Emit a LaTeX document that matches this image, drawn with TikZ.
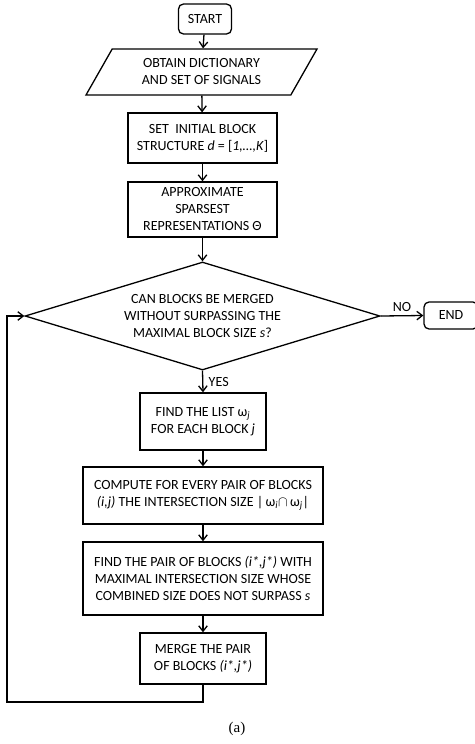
\documentclass[tikz,border=0pt]{standalone}
\usepackage{fontspec}
\setmainfont{Carlito}
\newfontfamily\capfont{Liberation Serif}
\usetikzlibrary{shapes.geometric, arrows.meta, positioning}

\begin{document}
\begin{tikzpicture}[x=1pt, y=-1pt, line width=1.3pt,
    >={Straight Barb[length=5.5pt, width=8.5pt]},
    font=\fontsize{14}{17}\selectfont]
    % Styles for the flowchart shapes
    \tikzstyle{block}=[rectangle, draw, align=center, inner sep=0pt]
    \tikzstyle{terminal}=[rectangle, draw, rounded corners=5pt, align=center, inner sep=0pt]
    \tikzstyle{io}=[trapezium, draw, trapezium left angle=45, trapezium right angle=135,
        trapezium stretches body, align=center, inner sep=0pt]
    \tikzstyle{decision}=[diamond, draw, aspect=3.3, align=center, inner sep=0pt]

    \useasboundingbox (0,0) rectangle (474,744);

    % Draw the nodes of the flowchart
    \node[terminal, minimum width=53pt, minimum height=30pt] (start) at (205,19) {START};
    \node[io, minimum width=231pt, minimum height=46pt] (obtain) at (201.5,72)
        {OBTAIN DICTIONARY\\AND SET OF SIGNALS};
    \node[block, minimum width=149pt, minimum height=50pt] (init) at (202.5,138)
        {SET\ \ INITIAL BLOCK\\STRUCTURE \textit{d} = [\textit{1,\dots,K}]};
    \node[block, minimum width=149pt, minimum height=55pt] (approx) at (202.5,209.5)
        {APPROXIMATE\\SPARSEST\\REPRESENTATIONS Θ};
    \node[decision, minimum width=355pt, minimum height=108pt] (merge?) at (202.5,316)
        {CAN BLOCKS BE MERGED\\WITHOUT SURPASSING THE\\MAXIMAL BLOCK SIZE \textit{s}?};
    \node[terminal, minimum width=54pt, minimum height=27pt] (end) at (451,315.5) {END};
    \node[block, minimum width=126pt, minimum height=57pt] (list) at (203,421.5)
        {FIND THE LIST ω\textsubscript{\textit{j}}\\FOR EACH BLOCK \textit{j}};
    \node[block, minimum width=240pt, minimum height=57pt] (inter) at (203,495.5)
        {COMPUTE FOR EVERY PAIR OF BLOCKS\\\textit{(i,j)} THE INTERSECTION SIZE
         |\,ω\textsubscript{\textit{i}}$\cap$\,ω\textsubscript{\textit{j}}|};
    \node[block, minimum width=240pt, minimum height=73pt] (pair) at (203,578.5)
        {FIND THE PAIR OF BLOCKS \textit{(i*,j*)} WITH\\MAXIMAL INTERSECTION SIZE WHOSE\\COMBINED SIZE DOES NOT SURPASS \textit{s}};
    \node[block, minimum width=126pt, minimum height=51pt] (merge) at (203,658.5)
        {MERGE THE PAIR\\OF BLOCKS \textit{(i*,j*)}};
    \coordinate (loop) at (7,702);

    % Caption
    \node[font=\capfont\fontsize{15}{18}\selectfont] (caption) at (237,729) {(a)};

    % Draw the arrows
    \draw[->] (start) -- (obtain);
    \draw[->] (obtain) -- (init);
    \draw[->] (init) -- (approx);
    \draw[->] (approx) -- (merge?);
    \draw[->] (merge?.east) -- node[above] {NO} (end.west);
    \draw[->] (merge?.south) -- node[right, xshift=2pt] {YES} (list.north);
    \draw[->] (list) -- (inter);
    \draw[->] (inter) -- (pair);
    \draw[->] (pair) -- (merge);
    \draw[->] (merge.south) |- (loop) |- (merge?.west);

\end{tikzpicture}
\end{document}
